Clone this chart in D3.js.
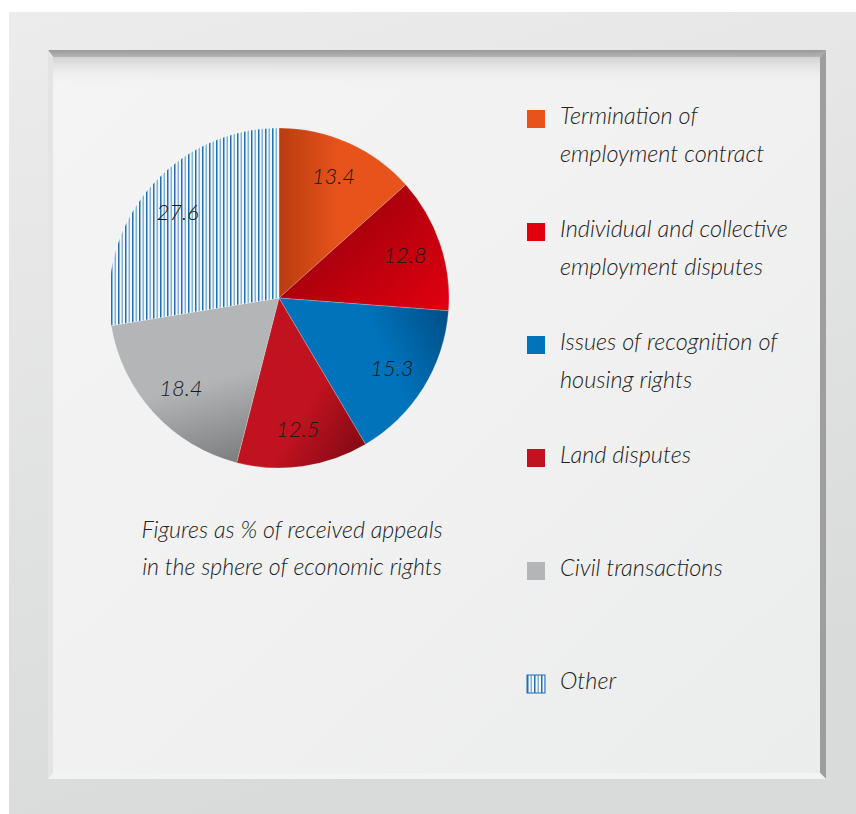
<!DOCTYPE html>
<html>
<head>
<meta charset="utf-8">
<script src="https://cdn.jsdelivr.net/npm/d3@7"></script>
<style>
  html, body { margin: 0; padding: 0; background: #fff; }
  svg { display: block; }
  text { font-family: Lato, "Open Sans", sans-serif; font-style: italic; font-weight: 300; fill: #222; }
</style>
</head>
<body>
<div class="container"></div>
<script>
// data
var categories = [
  ['Termination of', 'employment contract'],
  ['Individual and collective', 'employment disputes'],
  ['Issues of recognition of', 'housing rights'],
  ['Land disputes'],
  ['Civil transactions'],
  ['Other']
];
var values = [13.4, 12.8, 15.3, 12.5, 18.4, 27.6];
var labels = ['13.4', '12.8', '15.3', '12.5', '18.4', '27.6'];
var caption = ['Figures as % of received appeals', 'in the sphere of economic rights'];

// light / dark pairs for the slice shading
var colorsLight = ['#e8531b', '#e2000f', '#0073bb', '#c0121f', '#b4b5b6', null];
var colorsDark = ['#b93c10', '#ad000d', '#004e86', '#820a14', '#7c7d7e', null];

var W = 856, H = 814;

var svg = d3.select('.container')
  .append('svg')
  .attr('width', W)
  .attr('height', H);

var defs = svg.append('defs');

// frame gradients
var outerG = defs.append('linearGradient').attr('id', 'outerG')
  .attr('x1', 0).attr('y1', 0).attr('x2', 0.3).attr('y2', 1);
outerG.append('stop').attr('offset', 0).attr('stop-color', '#ececec');
outerG.append('stop').attr('offset', 1).attr('stop-color', '#d9dada');

var panelG = defs.append('linearGradient').attr('id', 'panelG')
  .attr('x1', 0).attr('y1', 0).attr('x2', 1).attr('y2', 1);
panelG.append('stop').attr('offset', 0).attr('stop-color', '#f4f4f4');
panelG.append('stop').attr('offset', 0.5).attr('stop-color', '#f1f1f1');
panelG.append('stop').attr('offset', 1).attr('stop-color', '#ebecec');

var topShade = defs.append('linearGradient').attr('id', 'topShade')
  .attr('x1', 0).attr('y1', 0).attr('x2', 0).attr('y2', 1);
topShade.append('stop').attr('offset', 0).attr('stop-color', '#d2d2d2').attr('stop-opacity', 1);
topShade.append('stop').attr('offset', 1).attr('stop-color', '#f2f2f2').attr('stop-opacity', 0);

var topBand = defs.append('linearGradient').attr('id', 'topBand')
  .attr('x1', 0).attr('y1', 0).attr('x2', 0).attr('y2', 1);
topBand.append('stop').attr('offset', 0).attr('stop-color', '#9a9a9a');
topBand.append('stop').attr('offset', 1).attr('stop-color', '#b4b4b4');

// outer frame
svg.append('rect').attr('x', 9).attr('y', 12).attr('width', W - 9).attr('height', H - 12)
  .attr('fill', 'url(#outerG)');

// inner panel with bevel
svg.append('rect').attr('x', 48).attr('y', 50).attr('width', 778).attr('height', 729)
  .attr('fill', '#ededed');
svg.append('rect').attr('x', 53).attr('y', 57).attr('width', 767).attr('height', 716)
  .attr('fill', 'url(#panelG)');
svg.append('rect').attr('x', 53).attr('y', 57).attr('width', 767).attr('height', 28)
  .attr('fill', 'url(#topShade)');
svg.append('path').attr('d', 'M48,50 L826,50 L820,57 L53,57 Z').attr('fill', 'url(#topBand)');
svg.append('path').attr('d', 'M826,50 L826,779 L820,773 L820,57 Z').attr('fill', '#9e9e9e');
svg.append('path').attr('d', 'M48,50 L53,57 L53,773 L48,779 Z').attr('fill', '#e4e4e4');
svg.append('path').attr('d', 'M48,779 L53,773 L820,773 L826,779 Z').attr('fill', '#f3f3f3');

// hatch for "Other": dark and light blue lines alternating on white
var hatch = defs.append('pattern').attr('id', 'hatch')
  .attr('patternUnits', 'userSpaceOnUse').attr('width', 7).attr('height', 10);
hatch.append('rect').attr('width', 7).attr('height', 10).attr('fill', '#f4f6f8');
hatch.append('rect').attr('x', 0).attr('width', 1.5).attr('height', 10).attr('fill', '#1f6fb8');
hatch.append('rect').attr('x', 3.5).attr('width', 1.5).attr('height', 10).attr('fill', '#7fb3de');

// pie
var cx = 279, cy = 298, R = 170;

var pie = d3.pie().sort(null).value(function (d) { return d; });
var arcs = pie(values);
var arc = d3.arc().innerRadius(0).outerRadius(R);
var labelArc = d3.arc().innerRadius(133).outerRadius(133);

var g = svg.append('g').attr('transform', 'translate(' + cx + ',' + cy + ')');

arcs.forEach(function (a, i) {
  if (!colorsLight[i]) return;
  // shading runs across the slice from the light side to the dark side
  var grad = defs.append('linearGradient').attr('id', 'sg' + i)
    .attr('gradientUnits', 'userSpaceOnUse');
  var c0 = Math.sin(a.startAngle) * R, s0 = -Math.cos(a.startAngle) * R;
  var c1 = Math.sin(a.endAngle) * R, s1 = -Math.cos(a.endAngle) * R;
  if (i === 0) {
    grad.attr('x1', 0).attr('y1', 0).attr('x2', 60).attr('y2', 0);
    grad.append('stop').attr('offset', 0).attr('stop-color', colorsDark[i]);
    grad.append('stop').attr('offset', 1).attr('stop-color', colorsLight[i]);
  } else if (i === 1) {
    grad.attr('x1', c0 * 0.7).attr('y1', s0 * 0.7).attr('x2', c1).attr('y2', s1);
    grad.append('stop').attr('offset', 0).attr('stop-color', colorsDark[i]);
    grad.append('stop').attr('offset', 1).attr('stop-color', colorsLight[i]);
  } else {
    grad.attr('x1', c1 * 0.5).attr('y1', s1 * 0.5).attr('x2', c0).attr('y2', s0);
    grad.append('stop').attr('offset', 0).attr('stop-color', colorsLight[i]);
    grad.append('stop').attr('offset', 0.45).attr('stop-color', colorsLight[i]);
    grad.append('stop').attr('offset', 1).attr('stop-color', colorsDark[i]);
  }
});

g.selectAll('path.slice')
  .data(arcs)
  .enter()
  .append('path')
  .attr('class', 'slice')
  .attr('d', arc)
  .attr('fill', function (d, i) { return colorsLight[i] ? 'url(#sg' + i + ')' : 'url(#hatch)'; })
  .attr('stroke', 'rgba(255,255,255,0.35)')
  .attr('stroke-width', 0.6);

g.selectAll('text.val')
  .data(arcs)
  .enter()
  .append('text')
  .attr('class', 'val')
  .attr('transform', function (d) { return 'translate(' + labelArc.centroid(d) + ')'; })
  .attr('text-anchor', 'middle')
  .attr('dy', '0.35em')
  .style('font-size', '22px')
  .style('fill', '#1a1a1a')
  .text(function (d, i) { return labels[i]; });

// caption
svg.append('g').selectAll('text')
  .data(caption)
  .enter()
  .append('text')
  .attr('x', 292)
  .attr('y', function (d, i) { return 538 + i * 37; })
  .attr('text-anchor', 'middle')
  .style('font-size', '23.2px')
  .text(function (d) { return d; });

// legend
var legendY = d3.scaleLinear().domain([0, 5]).range([110, 675]);
var legend = svg.append('g').selectAll('g')
  .data(categories)
  .enter()
  .append('g')
  .attr('transform', function (d, i) { return 'translate(527,' + legendY(i) + ')'; });

legend.append('rect')
  .attr('width', 18).attr('height', 18)
  .attr('fill', function (d, i) { return colorsLight[i] || 'url(#hatch)'; })
  .attr('stroke', function (d, i) { return colorsLight[i] ? 'none' : '#1f6fb8'; })
  .attr('stroke-width', function (d, i) { return colorsLight[i] ? 0 : 1; });

legend.each(function (d) {
  var el = d3.select(this);
  d.forEach(function (line, j) {
    el.append('text')
      .attr('x', 33)
      .attr('y', 14 + j * 38)
      .style('font-size', '23.5px')
      .text(line);
  });
});
</script>
</body>
</html>
